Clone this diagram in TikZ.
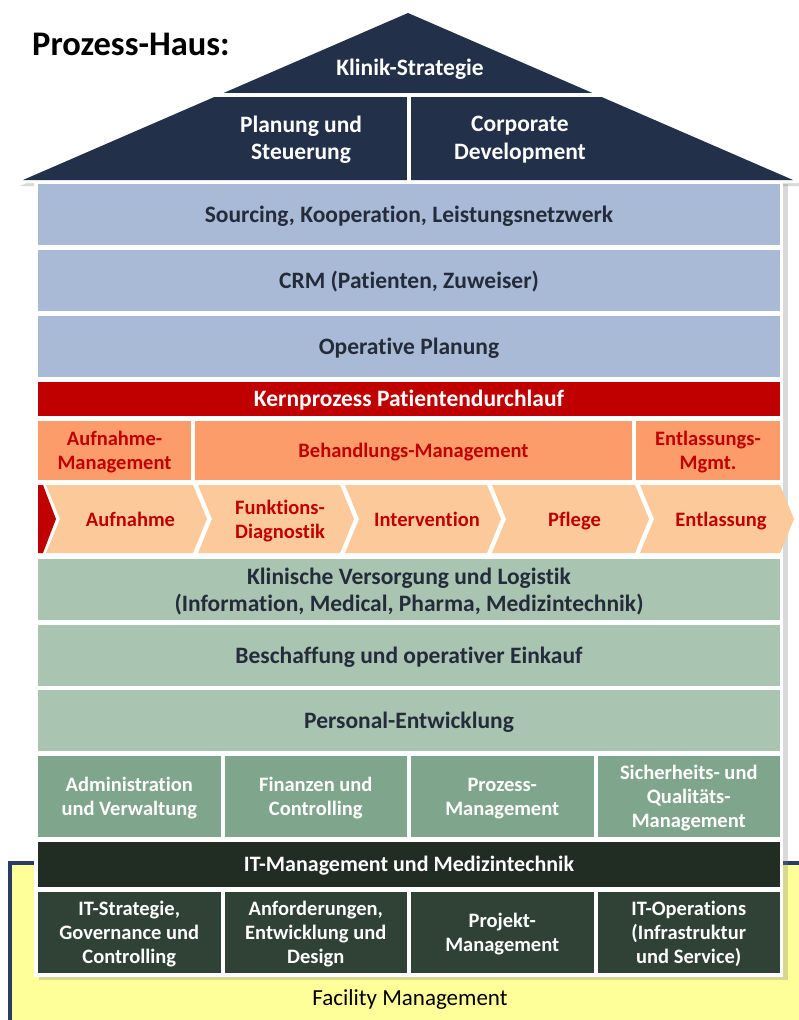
\documentclass[tikz,border=0pt]{standalone}
\usepackage{fontspec}
\setmainfont{Carlito}[Ligatures=CommonOff]
\usetikzlibrary{positioning, shadows}
\definecolor{navy}{RGB}{34, 48, 74}
\definecolor{skyblue}{RGB}{169, 186, 214}
\definecolor{kred}{RGB}{192, 0, 0}
\definecolor{salmon}{RGB}{252, 156, 106}
\definecolor{peach}{RGB}{252, 202, 154}
\definecolor{sage}{RGB}{169, 196, 176}
\definecolor{moss}{RGB}{127, 166, 140}
\definecolor{itdark}{RGB}{33, 44, 35}
\definecolor{itbox}{RGB}{47, 66, 53}
\definecolor{facyellow}{RGB}{255, 255, 153}
\definecolor{facborder}{RGB}{42, 59, 102}
\definecolor{textgray}{RGB}{36, 44, 58}

\tikzset{
    lbl/.style={font=\bfseries\fontsize{20.5}{24}\selectfont, align=center, inner sep=0pt, text depth=0pt},
    biglbl/.style={lbl, font=\bfseries\fontsize{23.5}{27.5}\selectfont},
    smallone/.style={text height=13.2pt, text depth=0pt},
    bigone/.style={text height=15.1pt, text depth=0pt},
    layer/.style={biglbl, fill=#1, minimum width=742pt, text=textgray},
    cell/.style={lbl, fill=#1, text=white, minimum height=81pt},
    mgmt/.style={lbl, fill=salmon, text=kred, minimum height=59pt},
    softshadow/.style={drop shadow={shadow xshift=5pt, shadow yshift=-3pt, opacity=0.3}}
}

\begin{document}
\begin{tikzpicture}[x=1pt, y=-1pt]
    \useasboundingbox (0,0) rectangle (798,1020);

    % Facility Management ground
    \filldraw[fill=facyellow, draw=facborder, line width=3.5pt] (10,863) rectangle (820,1040);
    \node[font=\fontsize{23}{27}\selectfont, inner sep=0pt, text height=14.8pt, text depth=0pt] (facility) at (410,998) {Facility Management};

    % Roof
    \fill[white, softshadow] (15,183) -- (408,7) -- (801,183) -- cycle;
    \fill[navy] (23,180) -- (408,13) -- (793,180) -- cycle;
    \draw[white, line width=4pt] (200,95) -- (616,95);
    \draw[white, line width=4pt] (409,95) -- (409,183);
    \node[biglbl, bigone, text=white] (strategie) at (410,68) {Klinik-Strategie};
    \node[biglbl, text=white] (planung) at (301,138) {Planung und\\Steuerung};
    \node[biglbl, text=white] (corpdev) at (520,138) {Corporate\\Development};

    \node[anchor=base west, font=\bfseries\fontsize{34.5}{40}\selectfont, inner sep=0pt] (title) at (32,55) {Prozess-Haus:};

    % House body
    \fill[white, softshadow] (34,181) rectangle (783,977);

    \node[layer=skyblue, bigone, minimum height=61pt] (sourcing) at (409,214.5) {Sourcing, Kooperation, Leistungsnetzwerk};
    \node[layer=skyblue, bigone, minimum height=61pt] (crm) at (409,280.5) {CRM (Patienten, Zuweiser)};
    \node[layer=skyblue, bigone, minimum height=61pt] (opplan) at (409,346.5) {Operative Planung};

    % Kernprozess
    \node[layer=kred, bigone, text=white, minimum height=34pt] (kern) at (409,399) {Kernprozess Patientendurchlauf};
    \node[mgmt, minimum width=153pt] (aufnmgmt) at (114.5,450.5) {Aufnahme-\\Management};
    \node[mgmt, smallone, minimum width=437pt] (behmgmt) at (413.5,450.5) {Behandlungs-Management};
    \node[mgmt, minimum width=144pt] (entlmgmt) at (708,450.5) {Entlassungs-\\Mgmt.};

    \fill[kred] (38,485) -- (43,485) -- (56,519) -- (43,553) -- (38,553) -- cycle;
    \foreach \l/\r/\name/\opt/\txt in {46/193/aufnahme/smallone/Aufnahme, 198/340/diagnostik/lbl/{Funktions-\\Diagnostik},
        345/487/intervention/smallone/Intervention, 492/635/pflege/smallone/Pflege, 640/780/entlassung/smallone/Entlassung} {
        \fill[peach] (\l,485) -- (\r,485) -- ({\r+14},519) -- (\r,553) -- (\l,553) -- ({\l+14},519) -- cycle;
        \node[lbl, \opt, text=kred] (\name) at ({(\l+\r)/2+11},519.5) {\txt};
    }

    % Support layers
    \node[layer=sage, minimum height=61pt] (versorgung) at (409,589.5) {Klinische Versorgung und Logistik\\(Information, Medical, Pharma, Medizintechnik)};
    \node[layer=sage, bigone, minimum height=61pt] (einkauf) at (409,655.5) {Beschaffung und operativer Einkauf};
    \node[layer=sage, bigone, minimum height=61pt] (personal) at (409,720.5) {Personal-Entwicklung};

    \foreach \i/\name/\txt in {0/admin/{Administration\\und Verwaltung}, 1/finanzen/{Finanzen und\\Controlling},
        2/prozess/{Prozess-\\Management}, 3/sicherheit/{Sicherheits- und\\Qualitäts-\\Management}} {
        \node[cell=moss, minimum width=182.5pt] (\name) at ({129.25+\i*186.5},796.5) {\txt};
    }

    % IT
    \node[layer=itdark, text=white, font=\bfseries\fontsize{22}{26}\selectfont, text height=14.2pt, text depth=0pt,
        minimum height=45pt] (itmgmt) at (409,864.5) {IT-Management und Medizintechnik};
    \foreach \i/\name/\txt in {0/itstrat/{IT-Strategie,\\Governance und\\Controlling}, 1/anford/{Anforderungen,\\Entwicklung und\\Design},
        2/projekt/{Projekt-\\Management}, 3/itops/{IT-Operations\\(Infrastruktur\\und Service)}} {
        \node[cell=itbox, minimum width=182.5pt] (\name) at ({129.25+\i*186.5},932.5) {\txt};
    }
\end{tikzpicture}
\end{document}
